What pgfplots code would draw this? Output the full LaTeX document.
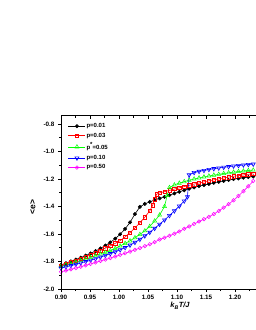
\documentclass[border=0pt]{standalone}
\usepackage{fontspec}
\setmainfont{Liberation Sans}
\usepackage{pgfplots}
\pgfplotsset{compat=1.18}
\definecolor{ogreen}{RGB}{0,255,0}
\definecolor{oblue}{RGB}{0,0,255}
\definecolor{omag}{RGB}{255,0,255}
\definecolor{ored}{RGB}{255,0,0}
\begin{document}
\begin{tikzpicture}
\pgfplotsset{
  common/.style={
    scale only axis, width=232pt, height=173.25pt,
    xmin=0.9, xmax=1.3, ymin=-2.0, ymax=-0.74,
    at={(61pt,41pt)}, anchor=south west,
    xtick={0.9,0.95,1.0,1.05,1.1,1.15,1.2,1.25,1.3},
    ytick={-2.0,-1.8,-1.6,-1.4,-1.2,-1.0,-0.8},
    minor x tick num=1, minor y tick num=1,
    axis line style={line width=0.8pt},
    major tick length=3pt, minor tick length=2pt,
    every tick/.style={black, line width=0.7pt},
  }
}
\begin{axis}[common,
  tick align=outside, xtick pos=left, ytick pos=left,
  /pgf/number format/assume math mode=true,
  ticklabel style={font=\fontsize{6.3}{7}\selectfont\bfseries},
  xticklabels={0.90,0.95,1.00,1.05,1.10,1.15,1.20,{},{}},
  yticklabel style={/pgf/number format/.cd, fixed, fixed zerofill, precision=1},
  xlabel={\bfseries\itshape k\textsubscript{B}T/J},
  xlabel style={font=\fontsize{7.5}{8}\selectfont, at={(rel axis cs:0.513,0)}, anchor=north, yshift=-10pt},
  ylabel={<e>},
  ylabel style={font=\fontsize{8.5}{9}\selectfont\bfseries, at={(rel axis cs:0,0.473)}, anchor=south, yshift=22pt},
  legend style={at={(0.03,0.962)}, anchor=north west, draw=none, fill=none,
    font=\fontsize{6}{7}\selectfont\bfseries, row sep=2.2pt, inner sep=0pt,
    nodes={inner sep=0.8pt}},
  legend cell align=left,
  legend image code/.code={\draw[mark repeat=2,mark phase=2,#1] plot coordinates {(0pt,0pt) (8.5pt,0pt) (17pt,0pt)};},
  every axis plot/.append style={line width=0.6pt, mark size=1.9pt, mark options={line width=0.5pt}},
]
\addplot[black, mark=*, mark size=1.7pt] coordinates {
(0.9000,-1.825)(0.9085,-1.812)(0.9170,-1.799)(0.9255,-1.786)(0.9340,-1.772)(0.9425,-1.757)(0.9510,-1.741)(0.9595,-1.724)(0.9680,-1.705)(0.9765,-1.684)(0.9850,-1.661)(0.9935,-1.634)(1.0020,-1.602)(1.0105,-1.563)(1.0190,-1.515)(1.0275,-1.455)(1.0360,-1.403)(1.0445,-1.381)(1.0530,-1.366)(1.0615,-1.353)(1.0700,-1.341)(1.0785,-1.330)(1.0870,-1.318)(1.0955,-1.305)(1.1040,-1.293)(1.1125,-1.282)(1.1210,-1.271)(1.1295,-1.261)(1.1380,-1.252)(1.1465,-1.244)(1.1550,-1.236)(1.1635,-1.228)(1.1720,-1.221)(1.1805,-1.214)(1.1890,-1.207)(1.1975,-1.201)(1.2060,-1.196)(1.2145,-1.191)(1.2230,-1.186)(1.2315,-1.182)
};
\addlegendentry{p=0.01}
\addplot[ored, mark=square, mark size=1.7pt] coordinates {
(0.9000,-1.830)(0.9085,-1.818)(0.9170,-1.806)(0.9255,-1.794)(0.9340,-1.781)(0.9425,-1.767)(0.9510,-1.752)(0.9595,-1.737)(0.9680,-1.720)(0.9765,-1.703)(0.9850,-1.686)(0.9935,-1.668)(1.0020,-1.648)(1.0105,-1.622)(1.0190,-1.590)(1.0275,-1.556)(1.0360,-1.518)(1.0445,-1.478)(1.0530,-1.432)(1.0580,-1.392)(1.0615,-1.348)(1.0650,-1.310)(1.0700,-1.301)(1.0785,-1.292)(1.0870,-1.283)(1.0955,-1.273)(1.1040,-1.264)(1.1125,-1.255)(1.1210,-1.246)(1.1295,-1.237)(1.1380,-1.229)(1.1465,-1.221)(1.1550,-1.213)(1.1635,-1.206)(1.1720,-1.199)(1.1805,-1.192)(1.1890,-1.186)(1.1975,-1.180)(1.2060,-1.175)(1.2145,-1.170)(1.2230,-1.166)(1.2315,-1.162)
};
\addlegendentry{p=0.03}
\addplot[ogreen, mark=triangle, mark size=2.3pt] coordinates {
(0.9000,-1.835)(0.9085,-1.825)(0.9170,-1.815)(0.9255,-1.804)(0.9340,-1.793)(0.9425,-1.782)(0.9510,-1.770)(0.9595,-1.758)(0.9680,-1.745)(0.9765,-1.733)(0.9850,-1.720)(0.9935,-1.705)(1.0020,-1.687)(1.0105,-1.668)(1.0190,-1.650)(1.0275,-1.627)(1.0360,-1.603)(1.0445,-1.577)(1.0530,-1.545)(1.0615,-1.505)(1.0700,-1.462)(1.0785,-1.400)(1.0830,-1.320)(1.0870,-1.262)(1.0955,-1.243)(1.1040,-1.230)(1.1125,-1.219)(1.1210,-1.209)(1.1295,-1.200)(1.1380,-1.192)(1.1465,-1.185)(1.1550,-1.178)(1.1635,-1.172)(1.1720,-1.166)(1.1805,-1.160)(1.1890,-1.155)(1.1975,-1.150)(1.2060,-1.146)(1.2145,-1.142)(1.2230,-1.138)(1.2315,-1.135)
};
\addlegendentry{p\raisebox{3.5pt}{*}=0.05}
\addplot[oblue, mark=triangle, mark size=2.3pt, mark options={rotate=180}] coordinates {
(0.9000,-1.848)(0.9085,-1.839)(0.9170,-1.830)(0.9255,-1.821)(0.9340,-1.811)(0.9425,-1.801)(0.9510,-1.791)(0.9595,-1.780)(0.9680,-1.768)(0.9765,-1.756)(0.9850,-1.743)(0.9935,-1.730)(1.0020,-1.715)(1.0105,-1.699)(1.0190,-1.681)(1.0275,-1.661)(1.0360,-1.639)(1.0445,-1.614)(1.0530,-1.588)(1.0615,-1.559)(1.0700,-1.529)(1.0785,-1.498)(1.0870,-1.466)(1.0955,-1.432)(1.1040,-1.397)(1.1125,-1.360)(1.1180,-1.330)(1.1210,-1.170)(1.1295,-1.153)(1.1380,-1.145)(1.1465,-1.138)(1.1550,-1.131)(1.1635,-1.125)(1.1720,-1.120)(1.1805,-1.115)(1.1890,-1.110)(1.1975,-1.106)(1.2060,-1.102)(1.2145,-1.098)(1.2230,-1.095)(1.2315,-1.092)
};
\addlegendentry{p=0.10}
\addplot[omag, mark=o, mark size=1.8pt] coordinates {
(0.9000,-1.875)(0.9085,-1.866)(0.9170,-1.857)(0.9255,-1.848)(0.9340,-1.838)(0.9425,-1.828)(0.9510,-1.818)(0.9595,-1.807)(0.9680,-1.796)(0.9765,-1.786)(0.9850,-1.775)(0.9935,-1.764)(1.0020,-1.752)(1.0105,-1.740)(1.0190,-1.728)(1.0275,-1.715)(1.0360,-1.702)(1.0445,-1.688)(1.0530,-1.674)(1.0615,-1.659)(1.0700,-1.640)(1.0785,-1.627)(1.0870,-1.613)(1.0955,-1.598)(1.1040,-1.582)(1.1125,-1.562)(1.1210,-1.545)(1.1295,-1.527)(1.1380,-1.509)(1.1465,-1.492)(1.1550,-1.475)(1.1635,-1.455)(1.1720,-1.432)(1.1805,-1.408)(1.1890,-1.383)(1.1975,-1.355)(1.2060,-1.323)(1.2145,-1.289)(1.2230,-1.253)(1.2315,-1.215)
};
\addlegendentry{p=0.50}
\end{axis}
\begin{axis}[common, tick align=inside, xtick pos=right, ytick=\empty, minor y tick num=0, xticklabel={\phantom{0}}]
\end{axis}
\pgfresetboundingbox
\path[use as bounding box] (0,0) rectangle (255pt,330pt);
\end{tikzpicture}
\end{document}
